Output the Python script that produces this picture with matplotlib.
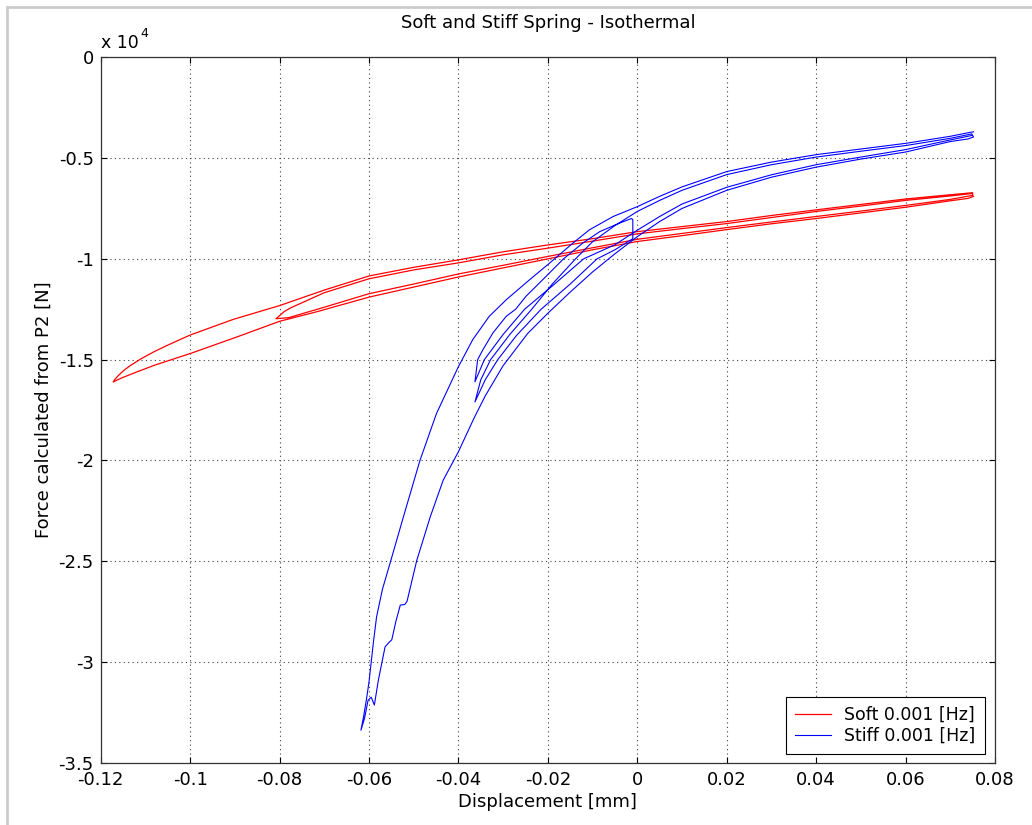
import matplotlib
matplotlib.use("Agg")
import matplotlib.pyplot as plt
from matplotlib.ticker import FixedLocator, FuncFormatter
from matplotlib.lines import Line2D

# ---------------- data (force in units of 1e4 N, displacement in mm) ----------------
# Soft spring: two cycles sharing the right turning point
soft_L1_x = [0.0752, 0.0740, 0.0700, 0.0600, 0.0500, 0.0400, 0.0300, 0.0200, 0.0100, 0.0000, -0.0100, -0.0200,
             -0.0300, -0.0400, -0.0500, -0.0600, -0.0716, -0.0800, -0.0896, -0.1000, -0.1080, -0.1119, -0.1150,
             -0.1164, -0.1172]
soft_L1_y = [-0.690, -0.700, -0.712, -0.744, -0.772, -0.800, -0.826, -0.855, -0.885, -0.914, -0.955, -1.000,
             -1.045, -1.090, -1.140, -1.190, -1.262, -1.310, -1.388, -1.470, -1.528, -1.561, -1.588,
             -1.602, -1.611]
soft_U1_x = [-0.1172, -0.1168, -0.1160, -0.1148, -0.1134, -0.1110, -0.1080, -0.1050, -0.1000, -0.0903, -0.0800,
             -0.0700, -0.0600, -0.0500, -0.0400, -0.0300, -0.0200, -0.0100, 0.0000, 0.0100, 0.0200, 0.0300,
             0.0400, 0.0500, 0.0600, 0.0700, 0.0750]
soft_U1_y = [-1.611, -1.597, -1.578, -1.553, -1.530, -1.496, -1.460, -1.428, -1.378, -1.300, -1.232,
             -1.155, -1.085, -1.042, -1.005, -0.965, -0.931, -0.900, -0.865, -0.840, -0.815, -0.785,
             -0.757, -0.730, -0.703, -0.682, -0.672]
soft_L2_x = [0.0750, 0.0700, 0.0600, 0.0500, 0.0400, 0.0300, 0.0200, 0.0100, 0.0000, -0.0100, -0.0200, -0.0300,
             -0.0400, -0.0500, -0.0600, -0.0700, -0.0780, -0.0808]
soft_L2_y = [-0.685, -0.705, -0.735, -0.763, -0.790, -0.817, -0.845, -0.874, -0.903, -0.945, -0.988, -1.032,
             -1.075, -1.125, -1.173, -1.240, -1.292, -1.297]
soft_U2_x = [-0.0808, -0.0800, -0.0790, -0.0775, -0.0700, -0.0600, -0.0500, -0.0400, -0.0300, -0.0200, -0.0100,
             0.0000, 0.0100, 0.0200, 0.0300, 0.0400, 0.0500, 0.0600, 0.0700, 0.0748]
soft_U2_y = [-1.297, -1.282, -1.262, -1.243, -1.168, -1.099, -1.055, -1.020, -0.980, -0.947, -0.912,
             -0.876, -0.850, -0.825, -0.795, -0.765, -0.738, -0.710, -0.688, -0.676]

# Stiff spring: several cycles of different amplitude
stiff_D_x = [0.0748, 0.0700, 0.0600, 0.0500, 0.0400, 0.0300, 0.0200, 0.0100, 0.0050, 0.0000, -0.0050, -0.0120,
             -0.0185, -0.0252, -0.0300, -0.0342, -0.0363]
stiff_D_y = [-0.388, -0.410, -0.458, -0.495, -0.533, -0.583, -0.645, -0.728, -0.790, -0.858, -0.930, -1.000,
             -1.125, -1.250, -1.375, -1.500, -1.610]
stiff_B_x = [-0.0363, -0.0357, -0.0345, -0.0323, -0.0293, -0.0272, -0.0249, -0.0204, -0.0165, -0.0122, -0.0084,
             -0.0040, -0.0013, -0.0010]
stiff_B_y = [-1.610, -1.500, -1.450, -1.368, -1.285, -1.250, -1.186, -1.087, -1.000, -0.922, -0.865,
             -0.823, -0.800, -0.805]
stiff_C_x = [-0.0010, -0.0050, -0.0090, -0.0150, -0.0215, -0.0270, -0.0312, -0.0340, -0.0363]
stiff_C_y = [-0.900, -0.955, -1.000, -1.125, -1.250, -1.380, -1.500, -1.600, -1.710]
stiff_E_x = [-0.0363, -0.0350, -0.0328, -0.0285, -0.0236, -0.0190, -0.0138, -0.0100, -0.0050, 0.0000, 0.0050,
             0.0100, 0.0200, 0.0300, 0.0400, 0.0500, 0.0600, 0.0700, 0.0748]
stiff_E_y = [-1.710, -1.600, -1.500, -1.375, -1.250, -1.125, -1.000, -0.915, -0.835, -0.765, -0.710,
             -0.660, -0.582, -0.533, -0.495, -0.466, -0.438, -0.402, -0.380]
stiff_F_x = [0.0752, 0.0740, 0.0700, 0.0600, 0.0500, 0.0400, 0.0300, 0.0200, 0.0100, 0.0050, 0.0000, -0.0050,
             -0.0100, -0.0150, -0.0200, -0.0245, -0.0300, -0.0340, -0.0365, -0.0400, -0.0434, -0.0463, -0.0493,
             -0.0515, -0.0520, -0.0530, -0.0540, -0.0549, -0.0556, -0.0564, -0.0579, -0.0588, -0.0595, -0.0602,
             -0.0610, -0.0618]
stiff_F_y = [-0.395, -0.405, -0.418, -0.470, -0.505, -0.545, -0.595, -0.660, -0.750, -0.815, -0.890, -0.975,
             -1.065, -1.165, -1.270, -1.370, -1.530, -1.680, -1.790, -1.957, -2.098, -2.280, -2.495,
             -2.700, -2.715, -2.718, -2.800, -2.890, -2.905, -2.925, -3.090, -3.214, -3.175, -3.190,
             -3.280, -3.339]
stiff_A_x = [-0.0618, -0.0612, -0.0606, -0.0600, -0.0595, -0.0590, -0.0583, -0.0570, -0.0553, -0.0523, -0.0486,
             -0.0449, -0.0420, -0.0400, -0.0368, -0.0331, -0.0293, -0.0241, -0.0196, -0.0144, -0.0107, -0.0054,
             0.0000, 0.0050, 0.0100, 0.0200, 0.0300, 0.0400, 0.0500, 0.0600, 0.0700, 0.0745, 0.0752]
stiff_A_y = [-3.339, -3.270, -3.190, -3.100, -3.000, -2.900, -2.776, -2.640, -2.511, -2.280, -2.000,
             -1.767, -1.630, -1.535, -1.401, -1.285, -1.203, -1.104, -1.021, -0.922, -0.856, -0.790,
             -0.741, -0.690, -0.643, -0.567, -0.520, -0.483, -0.455, -0.427, -0.392, -0.372, -0.370]

labels = ["Soft 0.001 [Hz]", "Stiff 0.001 [Hz]"]
x_ticks = [-0.12, -0.1, -0.08, -0.06, -0.04, -0.02, 0, 0.02, 0.04, 0.06, 0.08]
y_ticks = [0, -0.5, -1, -1.5, -2, -2.5, -3, -3.5]

soft_x = soft_L1_x + soft_U1_x + soft_L2_x + soft_U2_x
soft_y = soft_L1_y + soft_U1_y + soft_L2_y + soft_U2_y
stiff_x = stiff_D_x + stiff_B_x + stiff_C_x + stiff_E_x + stiff_F_x + stiff_A_x
stiff_y = stiff_D_y + stiff_B_y + stiff_C_y + stiff_E_y + stiff_F_y + stiff_A_y

# ---------------- figure ----------------
plt.rcParams['font.family'] = ['DejaVu Sans']
fig = plt.figure(figsize=(10.32, 8.25), dpi=100, facecolor='white')
ax = fig.add_axes([100.7 / 1032, 1 - 762.7 / 825, (995 - 100.7) / 1032, (762.7 - 57.3) / 825])

ax.plot(soft_x, soft_y, color='#ff0000', lw=0.9, label=labels[0])
ax.plot(stiff_x, stiff_y, color='#0000ff', lw=0.8, label=labels[1])

ax.set_xlim(-0.12, 0.08)
ax.set_ylim(-3.5, 0)

fmt = FuncFormatter(lambda v, p: '0' if abs(v) < 1e-12 else f'{round(v, 6):g}')
ax.xaxis.set_major_locator(FixedLocator(x_ticks))
ax.yaxis.set_major_locator(FixedLocator(y_ticks))
ax.xaxis.set_major_formatter(fmt)
ax.yaxis.set_major_formatter(fmt)

ax.tick_params(direction='in', length=4.3, width=0.8, top=True, right=True,
               labelsize=13, colors='black')
ax.tick_params(axis='x', pad=6)
ax.tick_params(axis='y', pad=5)
for s in ax.spines.values():
    s.set_linewidth(0.9)
    s.set_color('#333333')

ax.grid(True, which='major', color='#404040', linestyle=(0, (1, 3)), linewidth=0.8)
ax.set_axisbelow(True)

ax.set_title('Soft and Stiff Spring - Isothermal', fontsize=13, pad=21)
ax.set_xlabel('Displacement [mm]', fontsize=13, labelpad=3)
ax.set_ylabel('Force calculated from P2 [N]', fontsize=13, labelpad=4)

# MATLAB style exponent label
ax.text(0.0, 1 + (57.3 - 48) / 705.4, 'x 10', transform=ax.transAxes, ha='left', va='baseline', fontsize=12.5)
ax.text(0.044, 1 + (57.3 - 37) / 705.4, '4', transform=ax.transAxes, ha='left', va='baseline', fontsize=9)

leg = ax.legend(loc='lower right', bbox_to_anchor=(0.9888, 0.012), borderaxespad=0,
                fontsize=12.5, frameon=True, fancybox=False, framealpha=1, edgecolor='black',
                handlelength=2.07, handletextpad=0.75, borderpad=0.55, labelspacing=0.15)
leg.get_frame().set_linewidth(0.8)

# light gray figure frame (top and left edges)
fig.add_artist(Line2D([7 / 1032, 1.0], [1 - 7 / 825, 1 - 7 / 825], transform=fig.transFigure,
                      color='#cccccc', lw=2))
fig.add_artist(Line2D([7 / 1032, 7 / 1032], [0.0, 1 - 7 / 825], transform=fig.transFigure,
                      color='#cccccc', lw=2))

fig.savefig('out.png', dpi=100, facecolor='white')
